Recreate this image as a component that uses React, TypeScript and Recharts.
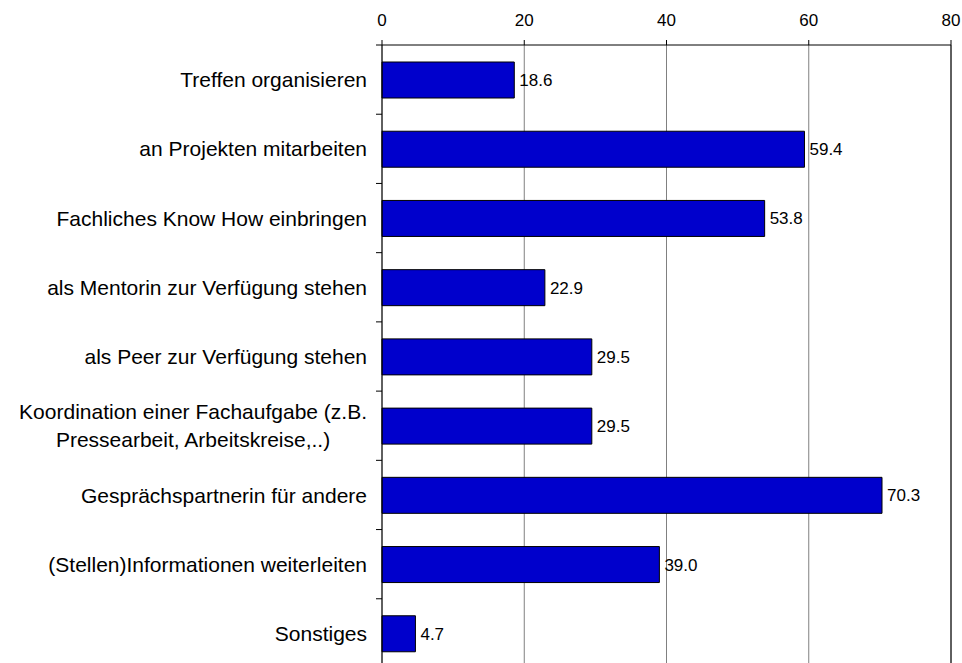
import React from 'react';
import { BarChart, Bar, XAxis, YAxis, CartesianGrid, ReferenceLine, LabelList } from 'recharts';

const categories = [
  'Treffen organisieren',
  'an Projekten mitarbeiten',
  'Fachliches Know How einbringen',
  'als Mentorin zur Verfügung stehen',
  'als Peer zur Verfügung stehen',
  'Koordination einer Fachaufgabe (z.B.\nPressearbeit, Arbeitskreise,..)',
  'Gesprächspartnerin für andere',
  '(Stellen)Informationen weiterleiten',
  'Sonstiges',
];
const values = [18.6, 59.4, 53.8, 22.9, 29.5, 29.5, 70.3, 39.0, 4.7];
const xTicks = [0, 20, 40, 60, 80];

const data = categories.map((name, i) => ({ name, value: values[i] }));

const FONT = 'Liberation Sans, Arial, Helvetica, sans-serif';
const CAT_SIZE = 21;
const TICK_MARGIN = 9;

let ctx: CanvasRenderingContext2D | null = null;
const measure = (s: string) => {
  if (!ctx) ctx = document.createElement('canvas').getContext('2d');
  if (!ctx) return s.length * 10;
  ctx.font = `${CAT_SIZE}px ${FONT}`;
  return ctx.measureText(s).width;
};

// category label, plus a small tick at the upper edge of each band (Excel style)
const CategoryTick = (props: any) => {
  const { x, y, payload } = props;
  const half = payload && payload.offset ? payload.offset : 34.6;
  const axisX = x + TICK_MARGIN + 6;
  const lines = String(payload.value).split('\n');
  const last = payload.index === categories.length - 1;
  let label;
  if (lines.length === 1) {
    label = (
      <text x={x} y={y} dy="0.36em" textAnchor="end" fontSize={CAT_SIZE} fontFamily={FONT} fill="#000">
        {lines[0]}
      </text>
    );
  } else {
    const w = Math.max(...lines.map(measure));
    const cx = x - w / 2;
    label = (
      <text x={cx} y={y} textAnchor="middle" fontSize={CAT_SIZE} fontFamily={FONT} fill="#000">
        {lines.map((l, i) => (
          <tspan key={i} x={cx} dy={i === 0 ? '-0.3em' : '1.3em'}>{l}</tspan>
        ))}
      </text>
    );
  }
  return (
    <g>
      {label}
      <line x1={axisX - 6} x2={axisX} y1={y - half} y2={y - half} stroke="#000" />
      {last && <line x1={axisX - 6} x2={axisX} y1={y + half} y2={y + half} stroke="#000" />}
    </g>
  );
};

export default function App() {
  return (
    <div style={{ position: 'absolute', left: 0, top: 0, background: '#fff' }}>
      <BarChart
        width={962}
        height={672}
        data={data}
        layout="vertical"
        margin={{ top: 0, right: 11, bottom: 4, left: 0 }}
        barSize={36}
      >
        <CartesianGrid horizontal={false} vertical stroke="#808080" />
        <XAxis
          type="number"
          orientation="top"
          domain={[0, 80]}
          ticks={xTicks}
          height={45}
          tickSize={5}
          tickMargin={14}
          axisLine={{ stroke: '#000' }}
          tickLine={{ stroke: '#000' }}
          tick={{ fontSize: 17, fontFamily: FONT, fill: '#000' }}
        />
        <YAxis
          type="category"
          dataKey="name"
          width={382}
          tickLine={false}
          tickSize={6}
          tickMargin={TICK_MARGIN}
          axisLine={{ stroke: '#000' }}
          tick={<CategoryTick />}
          interval={0}
        />
        <ReferenceLine x={80} stroke="#000" />
        <Bar dataKey="value" fill="#0000CC" stroke="#000" strokeWidth={1} isAnimationActive={false}>
          <LabelList
            dataKey="value"
            position="right"
            offset={5}
            formatter={(v: any) => Number(v).toFixed(1)}
            style={{ fontSize: 17, fontFamily: FONT, fill: '#000' }}
          />
        </Bar>
      </BarChart>
    </div>
  );
}
